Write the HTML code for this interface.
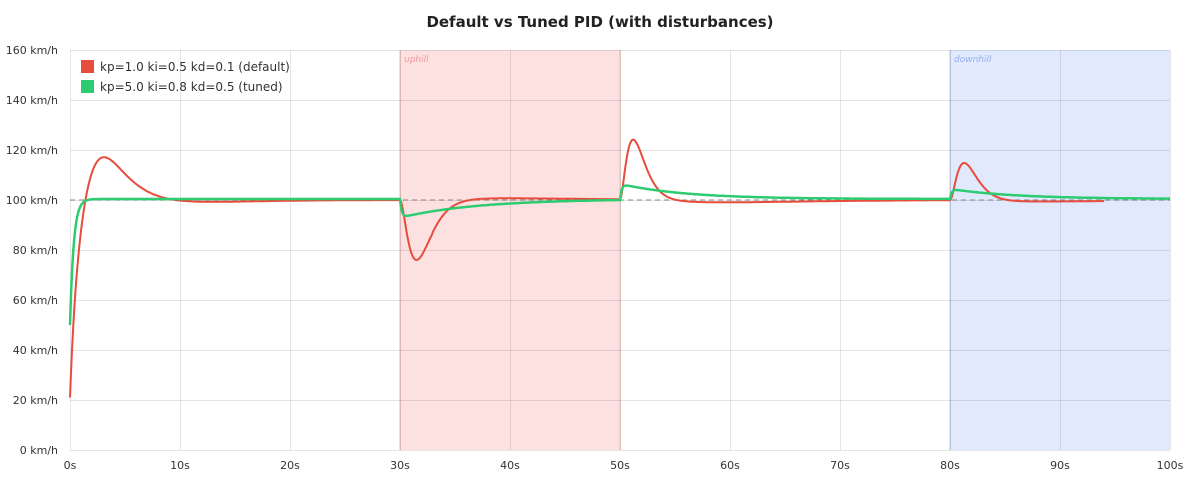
<!DOCTYPE html>
<html><head><meta charset="utf-8"><style>
body{margin:0;background:#fff;font-family:"DejaVu Sans",sans-serif}
</style></head><body>
<svg id="s" width="1200" height="500" xmlns="http://www.w3.org/2000/svg" font-family="DejaVu Sans, sans-serif">
<rect width="1200" height="500" fill="#fff"/>
<text x="600" y="27" text-anchor="middle" font-size="15" font-weight="bold" fill="#222">Default vs Tuned PID (with disturbances)</text>
<rect x="400" y="50" width="220" height="400" fill="#fde1e1"/>
<line x1="400" y1="50" x2="400" y2="450" stroke="#f3b5b5"/>
<line x1="620" y1="50" x2="620" y2="450" stroke="#f3b5b5"/>
<rect x="950" y="50" width="220" height="400" fill="#e1e9fd"/>
<line x1="950" y1="50" x2="950" y2="450" stroke="#b5c8f3"/>
<g id="grid" stroke="#000" stroke-opacity="0.1" stroke-width="1"></g>
<g id="lab" font-size="11" fill="#333"></g>
<text x="404" y="62" font-size="9" font-style="italic" fill="#f29a9a">uphill</text>
<text x="954" y="62" font-size="9" font-style="italic" fill="#93aef0">downhill</text>
<line x1="70" y1="200" x2="1170" y2="200" stroke="#888" stroke-dasharray="5,4" stroke-width="1"/>
<path id="r" fill="none" stroke="#e74c3c" stroke-width="2"/>
<path id="g" fill="none" stroke="#2ecc71" stroke-width="2.5"/>
<rect x="81" y="60" width="13" height="13" fill="#e74c3c"/>
<text x="100" y="71" font-size="12" fill="#333">kp=1.0 ki=0.5 kd=0.1 (default)</text>
<rect x="81" y="80" width="13" height="13" fill="#2ecc71"/>
<text x="100" y="91" font-size="12" fill="#333">kp=5.0 ki=0.8 kd=0.5 (tuned)</text>
</svg>
<script>
var NS="http://www.w3.org/2000/svg";
function el(p,t,a,txt){var e=document.createElementNS(NS,t);for(var k in a)e.setAttribute(k,a[k]);if(txt!=null)e.textContent=txt;document.getElementById(p).appendChild(e);}
for(var i=0;i<=10;i++){var x=70+i*110;el("grid","line",{x1:x+.5,y1:50,x2:x+.5,y2:450});el("lab","text",{x:x,y:469,"text-anchor":"middle"},(i*10)+"s");}
for(var j=0;j<=8;j++){var y=450-j*50;el("grid","line",{x1:70,y1:y+.5,x2:1170,y2:y+.5});el("lab","text",{x:58,y:y+4,"text-anchor":"end"},(j*20)+" km/h");}
function G(t,tp){if(t<0)return 0;var u=t/tp;return u*u*Math.exp(2*(1-u));}
function G3(t,tp){if(t<0)return 0;var u=t/tp;return u*u*u*Math.exp(3*(1-u));}
function S(t,a,b){if(t<0)return 0;return (1-Math.exp(-t/a))*Math.exp(-t/b);}
function red(t){var v;
 if(t<30){v=100-79*Math.exp(-t*1.5)+18*G3(t,2.9)-0.8*G(t-6,6);}
 else v=100;
 v+=-24*G(t-30,1.5)+0.7*G(t-30,9)*(t>33?1:0);
 v+=24*G(t-50,1.2)-1*G(t-50,9);
 v+=15*G(t-80,1.3)-0.6*G(t-80,8);
 return v;}
function green(t){var v=100.4-50.4*Math.exp(-t*3);
 v+=-7.5*S(t-30,0.15,7);
 v+=6.5*S(t-50,0.15,6);
 v+=4.0*S(t-80,0.15,6);
 return v;}
function path(f,t1){var d="";for(var t=0;t<=t1;t+=0.1){var x=70+t*11,y=450-f(t)*2.5;d+=(d?"L":"M")+x.toFixed(1)+" "+y.toFixed(1);}return d;}
document.getElementById("r").setAttribute("d",path(red,94));
document.getElementById("g").setAttribute("d",path(green,100));
</script>
</body></html>
